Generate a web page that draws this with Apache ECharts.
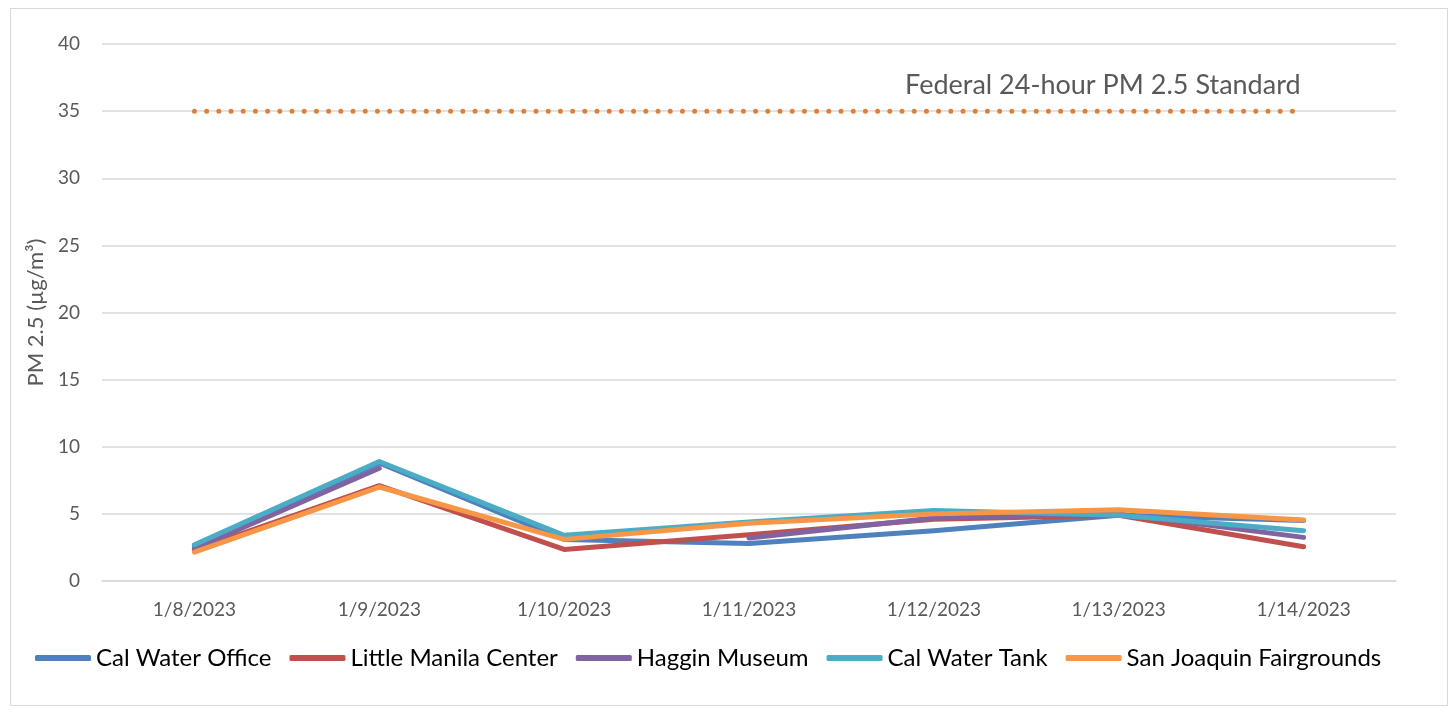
<!DOCTYPE html>
<html>
<head>
<meta charset="UTF-8">
<title>PM 2.5</title>
<style>
  html, body { margin: 0; padding: 0; background: #fff; }
  #box { position: absolute; left: 10px; top: 8px; width: 1436px; height: 696px; border: 1px solid #d9d9d9; }
  #chart { position: absolute; left: 0; top: 0; width: 1455px; height: 709px; }
</style>
</head>
<body>
<div id="box"></div>
<div id="chart"></div>
<script src="https://cdn.jsdelivr.net/npm/echarts@6/dist/echarts.min.js"></script>
<script>
var days = ['1/8/2023', '1/9/2023', '1/10/2023', '1/11/2023', '1/12/2023', '1/13/2023', '1/14/2023'];
var calWaterOffice = [2.6, 8.8, 3.1, 2.8, 3.75, 4.9, 4.5];
var littleManila = [2.3, 7.1, 2.35, 3.45, 4.6, 4.9, 2.55];
var hagginMuseum = [2.4, 8.4, null, 3.2, 4.7, 5.0, 3.25];
var calWaterTank = [2.7, 8.9, 3.4, 4.4, 5.25, 4.9, 3.75];
var sanJoaquin = [2.15, 7.0, 3.1, 4.3, 5.0, 5.3, 4.55];
var federalStd = [35, 35, 35, 35, 35, 35, 35];
var yTicks = [0, 5, 10, 15, 20, 25, 30, 35, 40];

var font = 'Lato';
function station(name, data, color) {
  return {
    name: name, type: 'line', data: data, symbol: 'none',
    lineStyle: { width: 5, color: color, cap: 'round', join: 'round' },
    itemStyle: { color: color }
  };
}

var chart = echarts.init(document.getElementById('chart'));
chart.setOption({
  animation: false,
  grid: { left: 102, right: 59, top: 44, bottom: 128 },
  legend: {
    left: 30, top: 641,
    icon: 'roundRect', itemWidth: 56, itemHeight: 6, itemGap: 18,
    textStyle: { fontFamily: font, fontSize: 24, color: '#000' },
    data: ['Cal Water Office', 'Little Manila Center', 'Haggin Museum', 'Cal Water Tank', 'San Joaquin Fairgrounds']
  },
  xAxis: {
    type: 'category', data: days, boundaryGap: true,
    axisLine: { lineStyle: { color: '#d9d9d9', width: 1.5 } },
    axisTick: { length: 8, lineStyle: { color: '#d9d9d9', width: 1.5 } },
    axisLabel: { fontFamily: font, fontSize: 19, color: '#595959', margin: 19 }
  },
  yAxis: {
    type: 'value', min: 0, max: 40, interval: 5,
    name: 'PM 2.5 (µg/m³)', nameLocation: 'middle', nameGap: 55, nameRotate: 90,
    nameTextStyle: { fontFamily: font, fontSize: 22, color: '#595959' },
    axisLine: { show: false }, axisTick: { show: false },
    axisLabel: {
      fontFamily: font, fontSize: 19, color: '#595959', margin: 22,
      formatter: function (v) { return yTicks.indexOf(v) >= 0 ? String(v) : ''; }
    },
    splitLine: { lineStyle: { color: '#d9d9d9', width: 1.5 } }
  },
  series: [
    {
      name: 'Federal 24-hour PM 2.5 Standard', type: 'line',
      symbol: 'circle', symbolSize: 1, showSymbol: true,
      data: federalStd.map(function (v, i) {
        if (i === federalStd.length - 1) {
          return { value: v, label: { show: true, position: 'top', align: 'right', distance: 12, offset: [-3, 0],
            formatter: 'Federal 24-hour PM 2.5 Standard', fontFamily: font, fontSize: 27, color: '#595959' } };
        }
        return v;
      }),
      lineStyle: { width: 5, color: '#E07F37', type: [0, 12.2], cap: 'round' },
      itemStyle: { color: 'rgba(0,0,0,0)' }
    },
    station('Cal Water Office', calWaterOffice, '#4F81BD'),
    station('Little Manila Center', littleManila, '#C0504D'),
    station('Haggin Museum', hagginMuseum, '#8064A2'),
    station('Cal Water Tank', calWaterTank, '#4BACC6'),
    station('San Joaquin Fairgrounds', sanJoaquin, '#F79646')
  ]
});
</script>
</body>
</html>
